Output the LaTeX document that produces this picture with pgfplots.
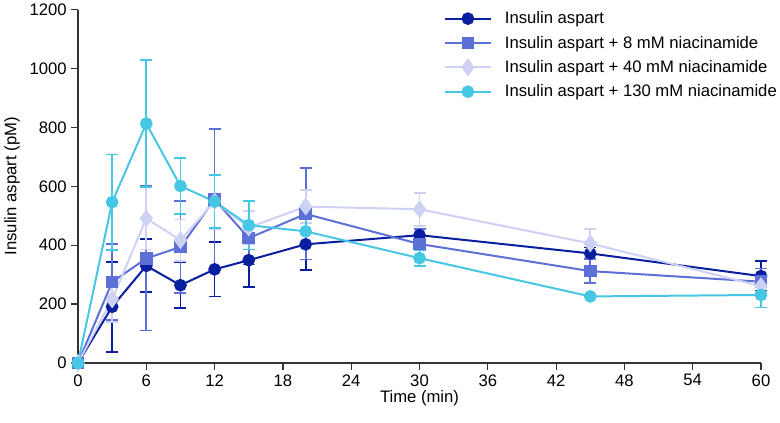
\documentclass[border=0pt]{standalone}
\usepackage{pgfplots}
\pgfplotsset{compat=1.18}
\usepackage{fontspec}
\setmainfont{Liberation Sans}
\definecolor{cA}{RGB}{10,30,160}
\definecolor{cB}{RGB}{92,112,216}
\definecolor{cC}{RGB}{205,210,245}
\definecolor{cD}{RGB}{70,200,228}
\begin{document}
\begin{tikzpicture}
\begin{axis}[
  at={(0,0)}, anchor=south west,
  width=512.25pt, height=265.1pt, scale only axis,
  xmin=0, xmax=60, ymin=0, ymax=1200,
  xtick={0,6,...,60}, ytick={0,200,...,1200},
  axis lines=left, axis line style={-, line width=0.9pt, color=black!80},
  tick style={line width=0.9pt, color=black!80}, tick align=outside, major tick length=5pt,
  clip=false,
  font=\fontsize{12.5}{14}\selectfont,
  tick label style={font=\fontsize{12.5}{14}\selectfont},
  /pgf/number format/assume math mode=true,
  /pgf/number format/1000 sep={},
  xlabel={Time (min)}, ylabel={Insulin aspart (pM)},
  xlabel style={yshift=4pt},
  ylabel style={at={(axis description cs:-0.0966,0.5)}, anchor=center},
  legend style={draw=none, fill=none, at={(0.529,1.01)}, anchor=north west, font=\fontsize{12.5}{14}\selectfont, row sep=3.7pt, legend cell align=left},
  legend image code/.code={\draw[mark repeat=2,mark phase=2,#1] plot coordinates {(0pt,0pt) (17.5pt,0pt) (35pt,0pt)}; \path (42.5pt,0pt);},
  every axis plot/.append style={line width=1.5pt},
  error bars/y dir=both, error bars/y explicit,
  error bars/error mark options={rotate=90, mark size=4.5pt, line width=1.3pt},
  error bars/error bar style={line width=1.3pt},
]
\addplot[color=cA, mark=*, mark size=4pt, mark options={solid}] table[x=t, y=v, y error=e] {
t v e
0 0 0
3 191 153
6 330 90
9 264 77
12 318 92
15 349 91
20 403 88
30 434 22
45 372 20
60 295 51
};
\addlegendentry{Insulin aspart}
\addplot[color=cB, mark=square*, mark size=4pt] table[x=t, y=v, y error=e] {
t v e
0 0 0
3 275 130
6 355 245
9 394 156
12 555 240
15 424 90
20 506 155
30 404 50
45 312 40
60 276 45
};
\addlegendentry{Insulin aspart + 8 mM niacinamide}
\addplot[color=cC, mark=diamond*, mark size=5.5pt] table[x=t, y=v, y error=e] {
t v e
0 0 0
3 216 77
6 491 106
9 417 70
12 548 92
15 460 55
20 531 56
30 522 56
45 406 48
60 261 20
};
\addlegendentry{Insulin aspart + 40 mM niacinamide}
\addplot[color=cD, mark=*, mark size=4pt] table[x=t, y=v, y error=e] {
t v e
0 0 0
3 546 162
6 813 215
9 601 95
12 548 90
15 468 83
20 447 45
30 356 27
45 226 0
60 231 43
};
\addlegendentry{Insulin aspart + 130 mM niacinamide}
\end{axis}
\pgfresetboundingbox
\useasboundingbox (-58.5pt,-44.25pt) rectangle (526.5pt,272.25pt);
\end{tikzpicture}
\end{document}
